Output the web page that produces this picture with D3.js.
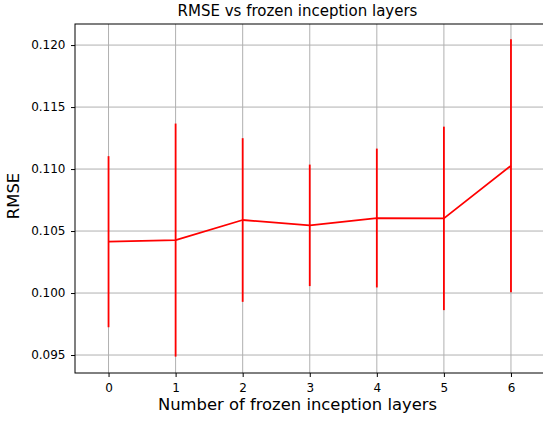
<!DOCTYPE html>
<html><head><meta charset="utf-8">
<script src="https://cdn.jsdelivr.net/npm/d3@7"></script>
<style>body{margin:0;background:#fff}svg{display:block}text{font-family:"DejaVu Sans",sans-serif;fill:#000}</style>
</head><body><svg id="c" width="543" height="421"></svg>
<script>
const layers = [0, 1, 2, 3, 4, 5, 6];
const rmse = [0.10414, 0.10427, 0.10589, 0.10546, 0.10605, 0.10602, 0.11027];
const rmseErr = [0.0069, 0.0094, 0.0066, 0.0049, 0.0056, 0.0074, 0.0102];
const yTicks = [0.095, 0.100, 0.105, 0.110, 0.115, 0.120];

const svg = d3.select("#c");
const L = 75, R = 544.5, T = 24, B = 373;
const x = d3.scaleLinear().domain([-0.5, 6.5]).range([L, R]);
const y = d3.scaleLinear().domain([0.09355, 0.1217]).range([B, T]);

const g = svg.append("g");
// grid
g.selectAll(".gx").data(layers).enter().append("line")
  .attr("x1", d => x(d)).attr("x2", d => x(d)).attr("y1", T).attr("y2", B)
  .attr("stroke", "#b0b0b0").attr("stroke-width", 1);
g.selectAll(".gy").data(yTicks).enter().append("line")
  .attr("x1", L).attr("x2", R).attr("y1", d => y(d)).attr("y2", d => y(d))
  .attr("stroke", "#b0b0b0").attr("stroke-width", 1);

// error bars
g.selectAll(".eb").data(layers).enter().append("line")
  .attr("x1", d => x(d)).attr("x2", d => x(d))
  .attr("y1", (d, i) => y(rmse[i] - rmseErr[i]))
  .attr("y2", (d, i) => y(rmse[i] + rmseErr[i]))
  .attr("stroke", "#ff0000").attr("stroke-width", 1.8);

// line
const line = d3.line().x((d, i) => x(layers[i])).y(d => y(d));
g.append("path").datum(rmse).attr("d", line).attr("fill", "none")
  .attr("stroke", "#ff0000").attr("stroke-width", 1.8).attr("stroke-linejoin", "round");

// axes
const xAxis = d3.axisBottom(x).tickValues(layers).tickFormat(d3.format("d")).tickSize(4).tickPadding(6);
const yAxis = d3.axisLeft(y).tickValues(yTicks).tickFormat(d3.format(".3f")).tickSize(4).tickPadding(5.5);
const ax = svg.append("g").attr("transform", `translate(0,${B})`).call(xAxis);
const ay = svg.append("g").attr("transform", `translate(${L},0)`).call(yAxis);
[ax, ay].forEach(a => {
  a.select(".domain").remove();
  a.selectAll(".tick line").attr("stroke", "#000").attr("stroke-width", 1);
  a.selectAll(".tick text").attr("font-size", 12).attr("fill", "#222").style("font-family", "DejaVu Sans");
});

// spines
svg.append("rect").attr("x", L).attr("y", T).attr("width", R - L).attr("height", B - T)
  .attr("fill", "none").attr("stroke", "#000").attr("stroke-width", 1);

// labels
const cx = 297.5;
svg.append("text").attr("x", cx).attr("y", 16).attr("text-anchor", "middle")
  .attr("font-size", 15).attr("fill", "#111").text("RMSE vs frozen inception layers");
svg.append("text").attr("x", cx).attr("y", 410).attr("text-anchor", "middle")
  .attr("font-size", 16.4).attr("fill", "#111").text("Number of frozen inception layers");
svg.append("text").attr("transform", `translate(18.5,196) rotate(-90)`).attr("text-anchor", "middle")
  .attr("font-size", 16.4).attr("fill", "#111").text("RMSE");
</script></body></html>
